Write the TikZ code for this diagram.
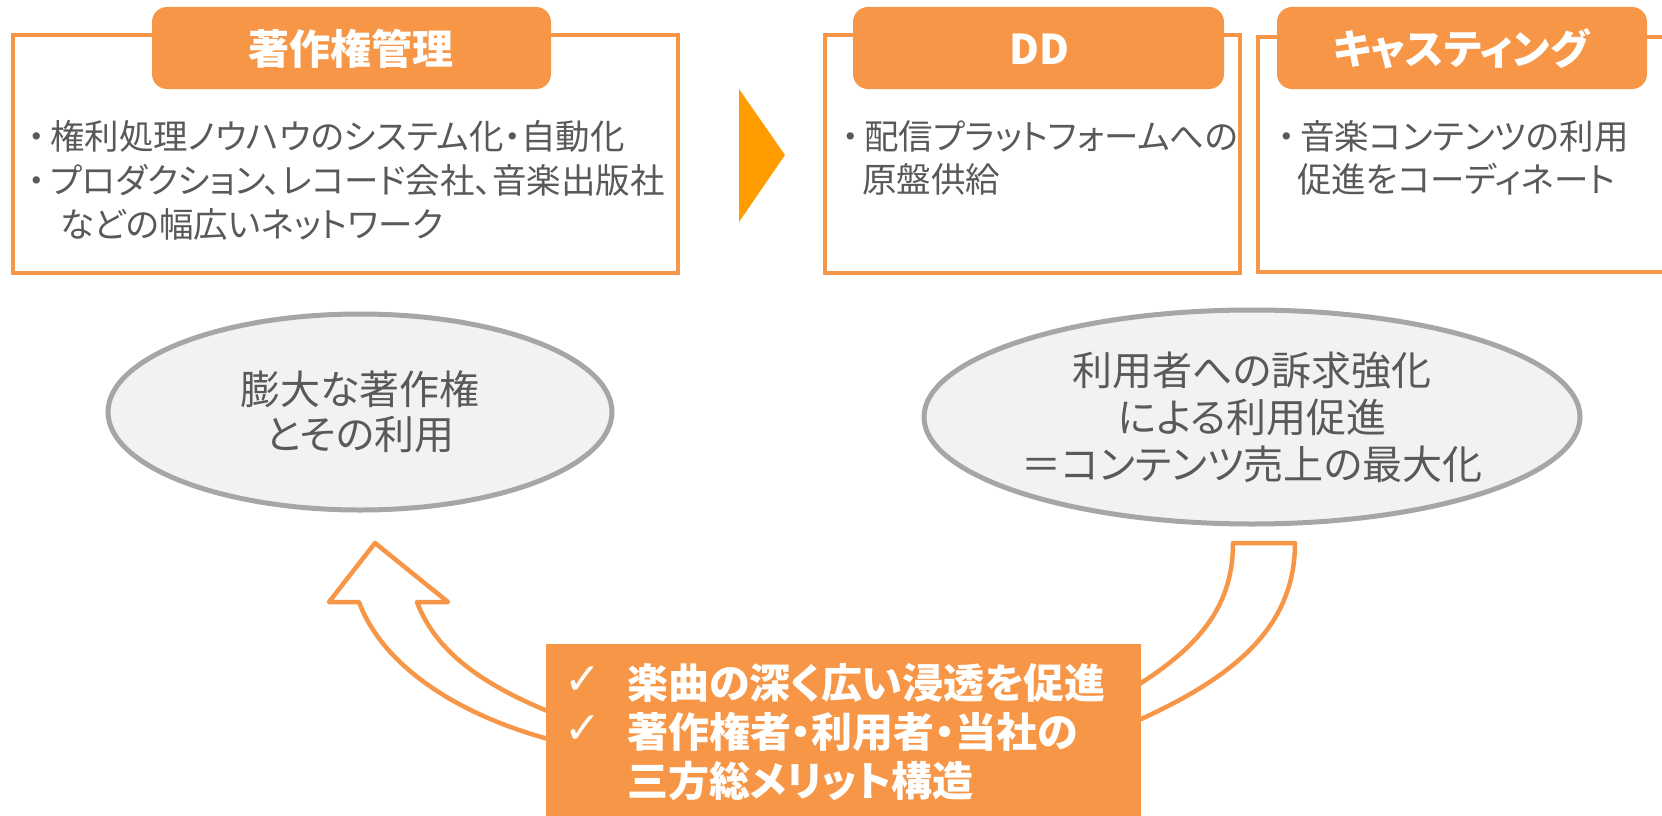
\documentclass[tikz,border=0pt]{standalone}
\usepackage{fontspec}
\setmainfont{Noto Sans CJK JP}[RawFeature=+palt]
\newfontfamily\symfont{DejaVu Sans}
\usetikzlibrary{shapes.geometric}
\definecolor{org}{HTML}{F79646}
\definecolor{tri}{HTML}{FF9C00}
\definecolor{txtgray}{HTML}{595959}
\definecolor{ovalgray}{HTML}{A6A6A6}
\definecolor{ovalfill}{HTML}{F2F2F2}
\newcommand\bul{\makebox[26pt][c]{・}}
\tikzset{
  frame/.style={draw=org, line width=4pt, fill=white},
  hdr/.style={fill=org, rounded corners=15pt},
  hdrtext/.style={text=white, font=\fontsize{41}{48}\selectfont\bfseries, inner sep=0pt},
  body/.style={text=txtgray, font=\fontsize{34.5}{44}\selectfont, inner sep=0pt, anchor=west},
  oval/.style={ellipse, draw=ovalgray, line width=5pt, fill=ovalfill, inner sep=0pt,
    text=txtgray, align=center},
  bigarrow/.style={draw=org, line width=4.5pt, fill=white, line join=round},
  keytext/.style={text=white, font=\fontsize{41}{49}\selectfont\bfseries, inner sep=0pt, anchor=west},
  checkmark/.style={text=white, font=\symfont\fontsize{44}{48}\selectfont, inner sep=0pt}
}
\begin{document}
\begin{tikzpicture}[x=1pt,y=-1pt]
\useasboundingbox (0,0) rectangle (1662,816);
\clip (0,0) rectangle (1662,816);

% --- box 1: copyright management
\draw[frame] (13,35) rectangle (678,273);
\fill[hdr] (152,7) rectangle (551,89);
\node[hdrtext] (h1) at (351,49) {著作権管理};
\node[body] (b1a) at (24,136) {\bul 権利処理ノウハウのシステム化・自動化};
\node[body] (b1b) at (24,180) {\bul プロダクション、レコード会社、音楽出版社};
\node[body] (b1c) at (60,224) {などの幅広いネットワーク};

% --- triangle
\fill[tri] (739,89) -- (785,155) -- (739,222) -- cycle;

% --- box 2: DD
\draw[frame] (825,35) rectangle (1240,273);
\fill[hdr] (853,7) rectangle (1224,89);
\node[hdrtext] (h2) at (1039,49) {DD};
\node[body] (b2a) at (838,136) {\bul 配信プラットフォームへの};
\node[body] (b2b) at (862,179) {原盤供給};

% --- box 3: casting
\draw[frame] (1258,37) rectangle (1720,272);
\fill[hdr] (1277,7) rectangle (1647,89);
\node[hdrtext] (h3) at (1461,49) {キャスティング};
\node[body] (b3a) at (1274,136) {\bul 音楽コンテンツの利用};
\node[body] (b3b) at (1297,179) {促進をコーディネート};

% --- ovals
\node[oval, minimum width=504pt, minimum height=196pt,
  font=\fontsize{40}{45}\selectfont] (e1) at (360,412) {膨大な著作権\\とその利用};
\node[oval, minimum width=656pt, minimum height=214pt,
  font=\fontsize{40}{47}\selectfont] (e2) at (1252,417)
  {利用者への訴求強化\\による利用促進\\＝コンテンツ売上の最大化};

% --- curved arrow (left, with head)
\coordinate (ltip) at (375,543);
\draw[bigarrow] (ltip) -- (448,602) -- (417,602)
  .. controls (435,650) and (480,685) .. (560,716)
  -- (560,742)
  .. controls (470,720) and (385,672) .. (359,602)
  -- (329,602) -- cycle;

% --- curved band (right, no head)
\coordinate (rtop) at (1233,543);
\draw[bigarrow] (rtop) -- (1295,543)
  .. controls (1295,630) and (1230,680) .. (1130,724)
  -- (1130,690)
  .. controls (1195,650) and (1233,610) .. (rtop) -- cycle;

% --- key message box
\fill[org] (546,644) rectangle (1141,820);
\node[checkmark] (c1) at (583,681) {✓};
\node[checkmark] (c2) at (583,730) {✓};
\node[keytext] (k1) at (627,683) {楽曲の深く広い浸透を促進};
\node[keytext] (k2) at (627,732) {著作権者・利用者・当社の};
\node[keytext] (k3) at (627,781) {三方総メリット構造};
\end{tikzpicture}
\end{document}
